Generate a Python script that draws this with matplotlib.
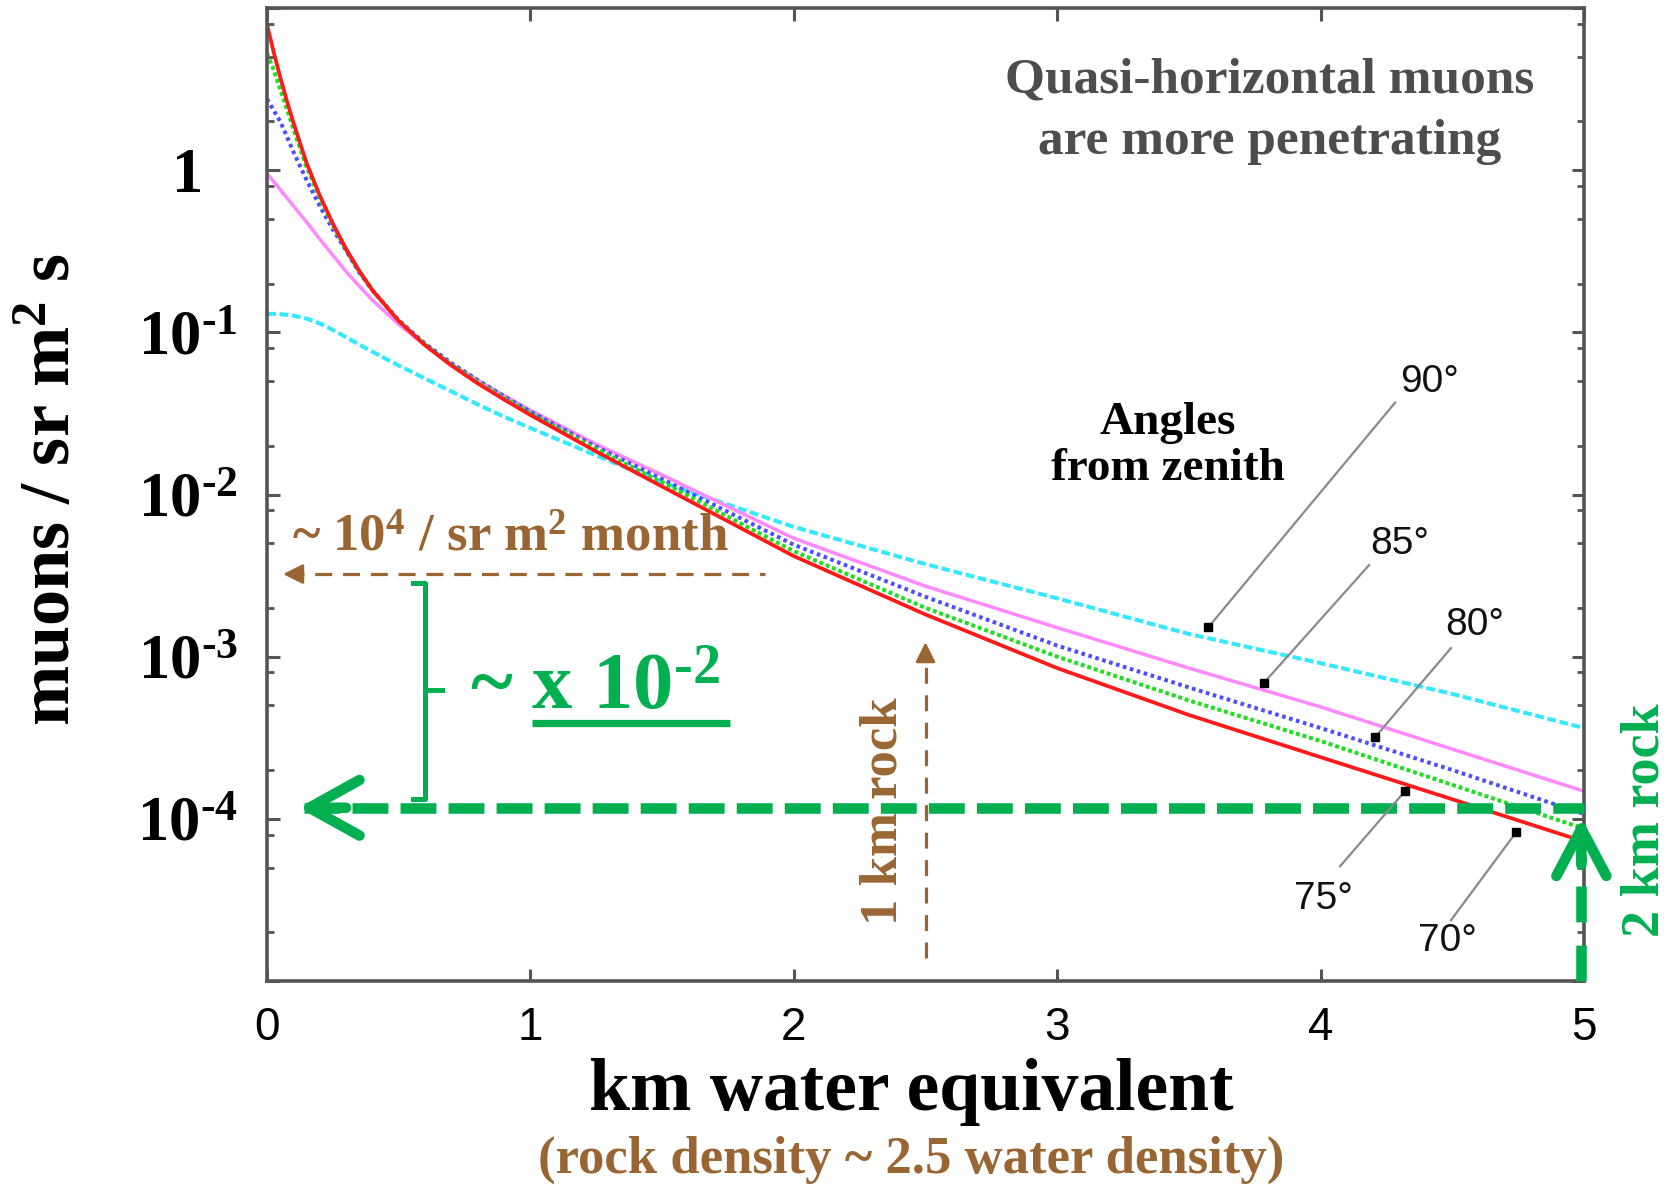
import numpy as np
import matplotlib
matplotlib.use("Agg")
import matplotlib.pyplot as plt
from matplotlib.ticker import FixedLocator, LogLocator, NullFormatter

plt.rcParams['font.family'] = ['Liberation Serif', 'DejaVu Serif']
plt.rcParams['mathtext.fontset'] = 'custom'
plt.rcParams['mathtext.rm'] = 'Liberation Serif:bold'
plt.rcParams['mathtext.it'] = 'Liberation Serif:bold'
plt.rcParams['mathtext.bf'] = 'Liberation Serif:bold'

# ---------------- data ----------------
depth_km = [0, 0.025, 0.05, 0.075, 0.1, 0.15, 0.2, 0.25, 0.3, 0.35, 0.4, 0.5, 0.6, 0.7,
            0.8, 0.9, 1.0, 1.25, 1.5, 2.0, 2.5, 3.0, 3.5, 4.0, 4.5, 5.0]

flux_70 = [7.94, 5.37, 3.76, 2.69, 1.97, 1.11, 0.70, 0.468, 0.327, 0.240, 0.182, 0.1175,
           0.0832, 0.0624, 0.0484, 0.0385, 0.0309, 0.0184, 0.0112, 4.17e-3, 1.82e-3,
           8.5e-4, 4.37e-4, 2.4e-4, 1.32e-4, 7.24e-5]
flux_75 = [5.25, 4.17, 3.16, 2.40, 1.80, 1.047, 0.676, 0.457, 0.324, 0.237, 0.182, 0.1175,
           0.0841, 0.0631, 0.0495, 0.0394, 0.0316, 0.0191, 0.0119, 4.47e-3, 2.0e-3,
           1.0e-3, 5.37e-4, 3.02e-4, 1.62e-4, 8.7e-5]
flux_80 = [2.75, 2.34, 2.0, 1.62, 1.30, 0.871, 0.603, 0.431, 0.32, 0.234, 0.182, 0.119,
           0.0851, 0.0646, 0.0507, 0.0403, 0.0324, 0.0197, 0.01245, 4.9e-3, 2.34e-3,
           1.17e-3, 6.46e-4, 3.63e-4, 2.0e-4, 1.07e-4]
flux_85 = [0.955, 0.851, 0.759, 0.676, 0.603, 0.479, 0.376, 0.299, 0.237, 0.193, 0.158,
           0.112, 0.0832, 0.0638, 0.0507, 0.0407, 0.0331, 0.0204, 0.0132, 5.37e-3, 2.72e-3,
           1.51e-3, 8.5e-4, 4.9e-4, 2.69e-4, 1.48e-4]
flux_90 = [0.130, 0.130, 0.1294, 0.1282, 0.1268, 0.1216, 0.1135, 0.1035, 0.0933, 0.0841,
           0.0759, 0.0624, 0.0519, 0.0432, 0.0359, 0.0302, 0.0257, 0.0174, 0.0119, 6.31e-3,
           3.72e-3, 2.29e-3, 1.38e-3, 9.12e-4, 5.89e-4, 3.63e-4]

angle_labels = ['70°', '75°', '80°', '85°', '90°']

x_ticks = [0, 1, 2, 3, 4, 5]
x_tick_labels = ['0', '1', '2', '3', '4', '5']
y_ticks = [1e-5, 1e-4, 1e-3, 1e-2, 1e-1, 1, 10]
y_tick_labels = ['', r'10$^{\text{-}4}$', r'10$^{\text{-}3}$', r'10$^{\text{-}2}$',
                 r'10$^{\text{-}1}$', '1', '']

flux_level_month = 3.23e-3     # ~10^4 / sr m^2 month
flux_level_2km = 1.17e-4       # flux at 2 km rock
depth_1km_rock = 2.5
depth_2km_rock = 4.99

# ---------------- styles ----------------
green = '#00B050'
brown = '#996633'
styles = [
    dict(color='#FF1A1A', lw=2.7, ls='-'),
    dict(color='#22DD22', lw=2.9, dashes=(1.0, 0.7)),
    dict(color='#4D4DFF', lw=2.9, dashes=(0.9, 0.9)),
    dict(color='#FF88FF', lw=2.5, ls='-'),
    dict(color='#33E8FF', lw=2.9, dashes=(2.2, 0.9)),
]
series = [flux_70, flux_75, flux_80, flux_85, flux_90]

# label layout: (text x, text y, arrow start x, start y, tip x, tip y)
label_layout = [
    (4.48, 1.76e-5, 4.495, 2.37e-5, 4.742, 8.25e-5),
    (4.009, 3.19e-5, 4.074, 5.1e-5, 4.32, 1.48e-4),
    (4.586, 1.57e-3, 4.495, 1.13e-3, 4.207, 3.19e-4),
    (4.301, 4.94e-3, 4.184, 3.67e-3, 3.785, 6.9e-4),
    (4.415, 0.0497, 4.283, 0.0369, 3.574, 1.52e-3),
]

fig = plt.figure(figsize=(16.77, 11.85), dpi=100)
ax = fig.add_axes([267 / 1677, 1 - 981 / 1185, 1317 / 1677, 973 / 1185])
ax.set_yscale('log')
ax.set_xlim(0, 5)
ax.set_ylim(1e-5, 10)

for ys, st in zip(reversed(series), reversed(styles)):
    ax.plot(depth_km, ys, zorder=2, solid_capstyle='butt', dash_capstyle='butt',
            solid_joinstyle='round', **st)

# angle labels with pointer lines
for lab, (tx, ty, sx, sy, px, py) in zip(angle_labels, label_layout):
    ax.text(tx, ty, lab, ha='center', va='center', fontsize=28,
            family=['Liberation Sans', 'DejaVu Sans'], color='#111111', zorder=6)
    ax.plot([sx, px], [sy, py], color='#8A8A8A', lw=1.6, zorder=6)
    ax.plot([px], [py], marker='s', ms=5.5, color='black', zorder=7)

# ---------------- axes formatting ----------------
for sp in ax.spines.values():
    sp.set_color('#555555')
    sp.set_linewidth(2.6)

ax.set_xticks(x_ticks, x_tick_labels, fontsize=33,
              family=['Liberation Sans', 'DejaVu Sans'], color='black')
ax.yaxis.set_major_locator(FixedLocator(y_ticks))
ax.set_yticks(y_ticks, y_tick_labels, fontsize=45, fontweight='bold', ha='center')
ax.yaxis.set_minor_locator(LogLocator(base=10, subs=(2.0, 5.0, 8.0), numticks=50))
ax.yaxis.set_minor_formatter(NullFormatter())

ax.tick_params(axis='both', which='both', direction='in', top=True, right=True,
               color='#555555')
ax.tick_params(axis='both', which='major', length=9, width=2.2)
ax.tick_params(axis='y', which='minor', length=5, width=2.0)
ax.tick_params(axis='x', which='major', pad=18)
ax.tick_params(axis='y', which='major', pad=57)

ax.set_ylabel(r'muons / sr m$^2$ s', fontsize=52, fontweight='bold', va='center')
ax.yaxis.set_label_coords(-0.163, 0.505)
ax.set_xlabel('km water equivalent', fontsize=53, fontweight='bold', va='center')
ax.xaxis.set_label_coords(0.489, -0.1136)
ax.text(0.489, -0.184, '(rock density ~ 2.5 water density)', transform=ax.transAxes,
        ha='center', va='center', fontsize=38, fontweight='bold', color=brown)

# ---------------- annotations ----------------
ax.text(3.808, 2.30, 'Quasi-horizontal muons\nare more penetrating', ha='center',
        va='center', fontsize=37, fontweight='bold', color='#4D4D4D', linespacing=1.45)
ax.text(3.42, 0.0198, 'Angles\nfrom zenith', ha='center', va='center',
        fontsize=34, fontweight='bold', color='black', linespacing=1.12)

# green 2 km rock horizontal arrow
ax.plot([0.14, 5.0], [flux_level_2km] * 2, color=green, lw=7.6, dashes=(3.4, 1.15),
        dash_capstyle='butt', clip_on=False, zorder=3)
ax.annotate('', xy=(0.12, flux_level_2km), xytext=(0.30, flux_level_2km),
            arrowprops=dict(arrowstyle='->,head_length=0.9,head_width=0.5', color=green,
                            lw=7.6, mutation_scale=40, shrinkA=0, shrinkB=0,
                            capstyle='round', joinstyle='round'),
            zorder=3, annotation_clip=False)
# green vertical arrow at 5 km w.e.
ax.plot([depth_2km_rock] * 2, [1e-5, 6e-5], color=green, lw=7.6, dashes=(3.4, 2.2),
        dash_capstyle='butt', clip_on=False, zorder=3)
ax.annotate('', xy=(depth_2km_rock, 1.02e-4), xytext=(depth_2km_rock, 5.2e-5),
            arrowprops=dict(arrowstyle='->,head_length=0.85,head_width=0.45', color=green,
                            lw=7.6, mutation_scale=40, shrinkA=0, shrinkB=0,
                            capstyle='round', joinstyle='round'),
            zorder=3, annotation_clip=False)
ax.text(5.232, 9.8e-5, '2 km rock', rotation=90, ha='center', va='center',
        fontsize=39, fontweight='bold', color=green)

# green bracket and factor
ax.plot([0.554, 0.60, 0.60, 0.554], [2.84e-3, 2.84e-3, 1.32e-4, 1.32e-4],
        color=green, lw=3.6, solid_joinstyle='round', zorder=4)
ax.plot([0.60, 0.664], [6.2e-4, 6.2e-4], color=green, lw=3.6, zorder=4)
ax.text(0.771, 4.71e-4, r'~ x 10$^{\text{-}2}$', ha='left', va='baseline',
        fontsize=58, fontweight='bold', color=green, zorder=5)
ax.plot([1.006, 1.758], [3.92e-4, 3.92e-4], color=green, lw=5.2,
        solid_capstyle='butt', zorder=5)

# brown month-level arrow
ax.plot([0.075, 1.89], [flux_level_month] * 2, color=brown, lw=2.3, dashes=(5.3, 3.4),
        dash_capstyle='butt', zorder=4)
ax.annotate('', xy=(0.061, flux_level_month), xytext=(0.11, flux_level_month),
            arrowprops=dict(arrowstyle='-|>,head_length=0.6,head_width=0.3', color=brown,
                            lw=2.0, mutation_scale=20, shrinkA=0, shrinkB=0), zorder=4)
ax.text(0.095, 5.38e-3, r'~ 10$^4$ / sr m$^2$ month', ha='left', va='center',
        fontsize=38, fontweight='bold', color=brown, zorder=5)

# brown 1 km rock arrow
ax.plot([depth_1km_rock] * 2, [1.38e-5, 1.05e-3], color=brown, lw=2.3,
        dashes=(5.0, 3.6), dash_capstyle='butt', zorder=4)
ax.annotate('', xy=(depth_1km_rock, 1.23e-3), xytext=(depth_1km_rock, 9.5e-4),
            arrowprops=dict(arrowstyle='-|>,head_length=0.6,head_width=0.3', color=brown,
                            lw=2.0, mutation_scale=20, shrinkA=0, shrinkB=0), zorder=4)
ax.text(2.339, 1.11e-4, '1 km rock', rotation=90, ha='center', va='center',
        fontsize=38, fontweight='bold', color=brown, zorder=5)

fig.savefig('out.png', dpi=100, facecolor='white')
